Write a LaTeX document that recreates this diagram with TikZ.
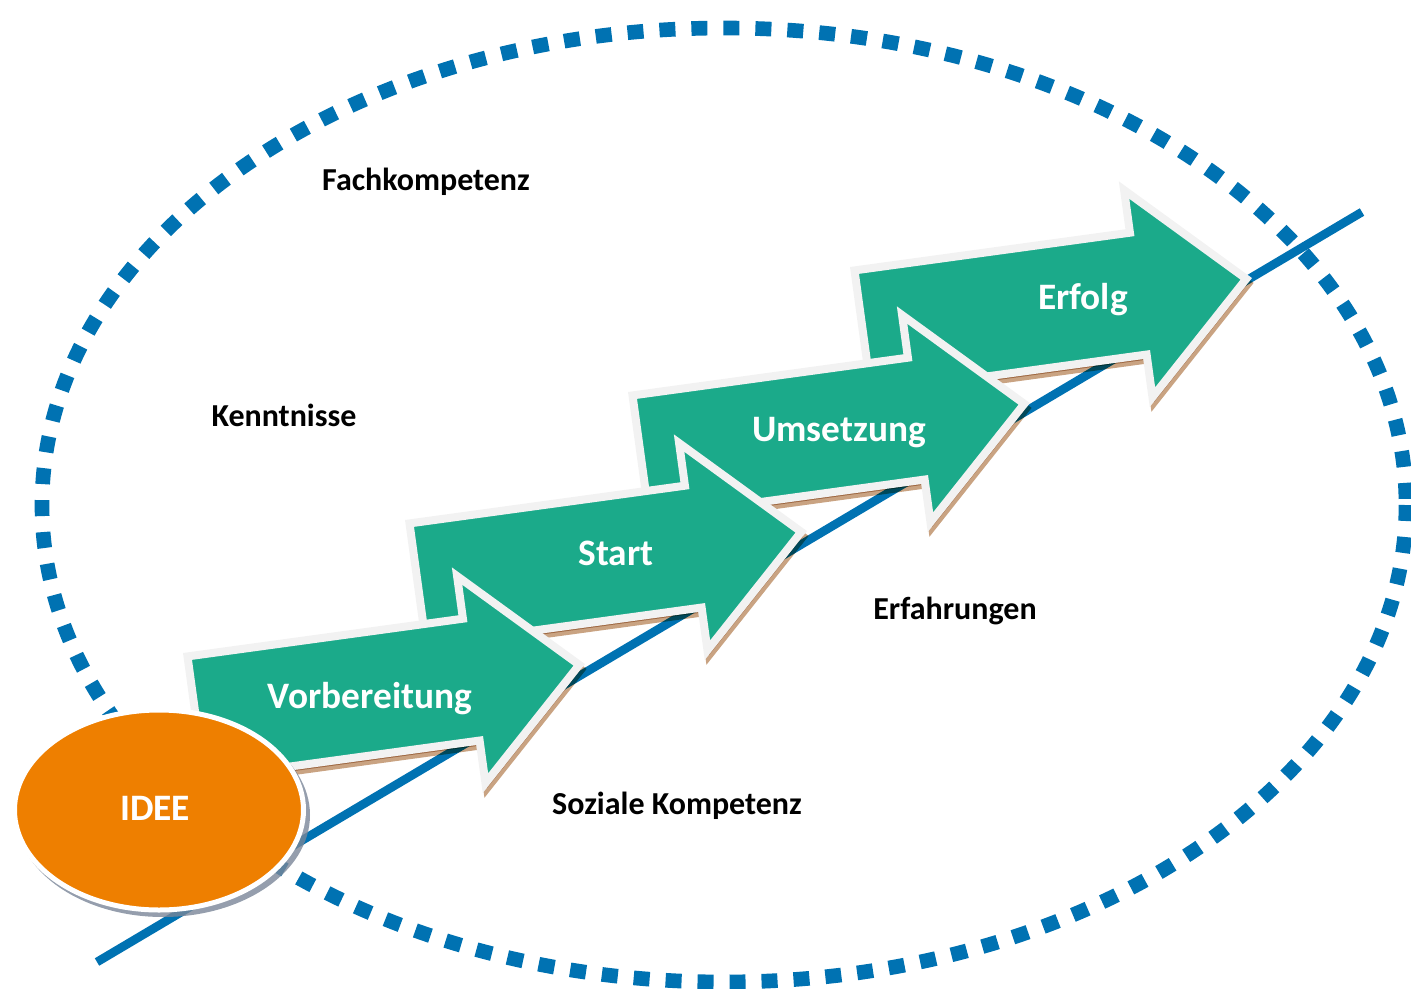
\documentclass[tikz,border=0pt]{standalone}
\usepackage{fontspec}
\setmainfont{Carlito}
\definecolor{ringblue}{RGB}{0,114,178}
\definecolor{stepgreen}{RGB}{27,170,138}
\definecolor{rimgray}{RGB}{242,242,242}
\definecolor{shadowtan}{RGB}{201,163,130}
\definecolor{ideeorange}{RGB}{238,127,0}
\definecolor{ideeshadow}{RGB}{122,134,152}
\begin{document}
\begin{tikzpicture}[x=0.75pt,y=0.75pt,yscale=-1,xscale=1,
    arrowbody/.style={fill=stepgreen,draw=rimgray,line width=6pt,line join=miter},
    arrowshade/.style={fill=shadowtan,draw=shadowtan,line width=6pt,line join=miter,shift={(1,5)}},
    steplabel/.style={text=white,inner sep=0pt,font=\fontsize{28}{33}\selectfont\bfseries},
    arealabel/.style={text=black,inner sep=0pt,font=\fontsize{24}{29}\selectfont\bfseries}]
        \useasboundingbox (0,0) rectangle (1411,989);
        %Dotted ring
        \draw [color=ringblue, line width=11pt, dash pattern=on 12pt off 12pt] (724,505) ellipse [x radius=682, y radius=477];
        %Straight line
        \coordinate (lineS) at (97,962);
        \coordinate (lineE) at (1362,212);
        \draw [color=ringblue, line width=6.5pt] (lineS) -- (lineE);

        %Arrow Erfolg
        \begin{scope}[shift={(850,267)}, rotate=-7.8]
        \begin{scope}[blend mode=multiply]
        \draw [arrowshade] (4,4) -- (282,4) -- (282,-39) -- (391,65.5) -- (282,170) -- (282,127) -- (4,127) -- cycle;
        \end{scope}
        \draw [arrowbody] (4,4) -- (282,4) -- (282,-39) -- (391,65.5) -- (282,170) -- (282,127) -- (4,127) -- cycle;
        \end{scope}
        %Arrow Umsetzung
        \begin{scope}[shift={(628,392)}, rotate=-7.8]
        \begin{scope}[blend mode=multiply]
        \draw [arrowshade] (4,4) -- (282,4) -- (282,-39) -- (391,65.5) -- (282,170) -- (282,127) -- (4,127) -- cycle;
        \end{scope}
        \draw [arrowbody] (4,4) -- (282,4) -- (282,-39) -- (391,65.5) -- (282,170) -- (282,127) -- (4,127) -- cycle;
        \end{scope}
        %Arrow Start
        \begin{scope}[shift={(405,520)}, rotate=-7.8]
        \begin{scope}[blend mode=multiply]
        \draw [arrowshade] (4,4) -- (282,4) -- (282,-39) -- (391,65.5) -- (282,170) -- (282,127) -- (4,127) -- cycle;
        \end{scope}
        \draw [arrowbody] (4,4) -- (282,4) -- (282,-39) -- (391,65.5) -- (282,170) -- (282,127) -- (4,127) -- cycle;
        \end{scope}
        %Arrow Vorbereitung
        \begin{scope}[shift={(183,653)}, rotate=-7.8]
        \begin{scope}[blend mode=multiply]
        \draw [arrowshade] (4,4) -- (282,4) -- (282,-39) -- (391,65.5) -- (282,170) -- (282,127) -- (4,127) -- cycle;
        \end{scope}
        \draw [arrowbody] (4,4) -- (282,4) -- (282,-39) -- (391,65.5) -- (282,170) -- (282,127) -- (4,127) -- cycle;
        \end{scope}

        % Text Node
        \node [steplabel] (erfolg) at (1083,300) {Erfolg};
        % Text Node
        \node [steplabel] (umsetzung) at (839,433) {Umsetzung};
        % Text Node
        \node [steplabel] (start) at (616,553) {Start};
        % Text Node
        \node [steplabel] (vorbereitung) at (370,699) {Vorbereitung};

        %Ellipse IDEE
        \draw [fill=ideeshadow, draw=none, opacity=0.8] (163,815) ellipse [x radius=147, y radius=102];
        \draw [fill=ideeorange, draw=white, line width=3.75pt] (159,810) ellipse [x radius=144.5, y radius=100];
        % Text Node
        \node [steplabel] (idee) at (155,808) {IDEE};

        % Text Node
        \node [arealabel] (fach) at (426,182) {Fachkompetenz};
        % Text Node
        \node [arealabel] (kennt) at (284,415) {Kenntnisse};
        % Text Node
        \node [arealabel] (erfahr) at (955,611) {Erfahrungen};
        % Text Node
        \node [arealabel] (sozial) at (677,806) {Soziale Kompetenz};
\end{tikzpicture}
\end{document}
